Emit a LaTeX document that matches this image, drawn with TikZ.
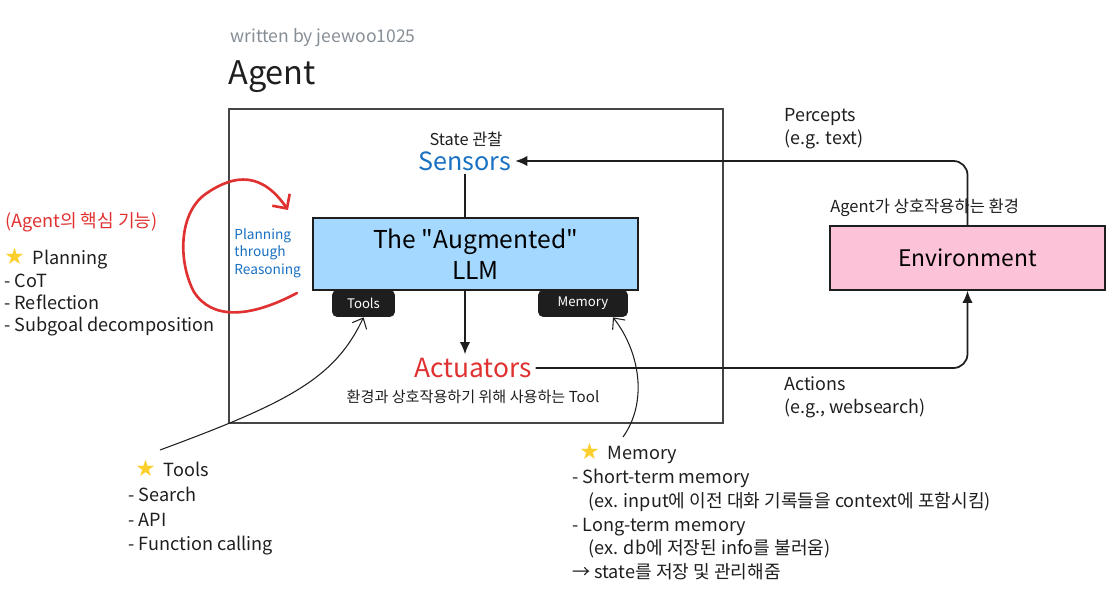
\documentclass[tikz,border=0pt]{standalone}
\usepackage{fontspec}
\setmainfont{Noto Sans CJK KR}
\newfontfamily\symfont{DejaVu Sans}
\usepackage{xcolor}
\usetikzlibrary{arrows.meta, positioning}

\definecolor{ink}{HTML}{1E1E1E}
\definecolor{framegray}{HTML}{454545}
\definecolor{sketchblue}{HTML}{1971C2}
\definecolor{sketchred}{HTML}{E03131}
\definecolor{llmfill}{HTML}{A5D8FF}
\definecolor{envfill}{HTML}{FCC2D7}
\definecolor{staryellow}{HTML}{FCD02C}
\definecolor{authorgray}{HTML}{868E96}

\newcommand{\yellowstar}{{\symfont\fontsize{13}{10}\selectfont\color{staryellow}★}}
\newcommand{\fs}[2]{\fontsize{#1}{#2}\selectfont}

\begin{document}
\begin{tikzpicture}[x=0.02cm, y=-0.02cm,
        frame/.style={rectangle, draw=framegray, line width=1pt, inner sep=0pt},
        llmbox/.style={rectangle, draw=ink, line width=1pt, fill=llmfill, align=center, inner sep=0pt, font=\fs{14}{17.5}},
        envbox/.style={rectangle, draw=ink, line width=0.8pt, fill=envfill, align=center, inner sep=0pt, font=\fs{13}{15}},
        tag/.style={rectangle, rounded corners=3pt, fill=ink, text=white, inner sep=0pt, minimum height=0.54cm, font=\fs{7.5}{9}},
        label/.style={align=left, inner sep=0pt, text=ink, font=\fs{10.3}{13.5}},
        bigword/.style={inner sep=2pt, font=\fs{14.3}{16}},
        arrow/.style={-{Latex[length=7pt, width=6pt]}, line width=1pt, draw=ink},
        callout/.style={-{Straight Barb[length=5pt, width=9pt]}, line width=0.6pt, draw=ink}
    ]
        \useasboundingbox (0,0) rectangle (1112,597);

        % Title
        \node[label, anchor=west, text=authorgray, font=\fs{10}{11}] (author) at (230,38) {written by jeewoo1025};
        \node[label, anchor=west, font=\fs{18.5}{20}] (title) at (228,77) {Agent};

        % Agent frame
        \node[frame, minimum width=9.88cm, minimum height=6.28cm] (agent) at (476,266) {};

        % Sensors
        \node[label, font=\fs{9.3}{10}] (state) at (466,139) {State 관찰};
        \node[bigword, text=sketchblue] (sensors) at (465,161) {Sensors};

        % Augmented LLM
        \node[llmbox, minimum width=6.5cm, minimum height=1.44cm] (llm) at (475.5,254) {The \textquotedbl Augmented\textquotedbl\\LLM};
        \node[tag, minimum width=1.26cm] (tools) at (363.5,303.5) {Tools};
        \node[tag, minimum width=1.8cm] (memory) at (583,303.5) {Memory};
        \node[label, text=sketchblue, font=\fs{7.8}{9.9}, anchor=north west] (planning) at (234,228) {Planning\\through\\Reasoning};

        % Actuators
        \node[bigword, text=sketchred, font=\fs{15}{16}] (actuators) at (473,368) {Actuators};
        \node[label, font=\fs{8.6}{10}] (tooluse) at (473,397) {환경과 상호작용하기 위해 사용하는 Tool};

        % Environment
        \node[envbox, minimum width=5.5cm, minimum height=1.28cm] (env) at (967.5,258) {Environment};
        \node[label, anchor=west, font=\fs{9.4}{10}] (envnote) at (830,208) {Agent가 상호작용하는 환경};
        \node[label, anchor=north west, font=\fs{10.2}{13}] (percepts) at (784,108) {Percepts\\(e.g. text)};
        \node[label, anchor=north west, font=\fs{10.2}{13}] (actions) at (784,376) {Actions\\(e.g., websearch)};

        % Notes outside the frame
        \node[label, anchor=west, text=sketchred] (corehead) at (5,222) {(Agent의 핵심 기능)};
        \node[label, anchor=north west, font=\fs{10.3}{12.7}] (planlist) at (4,248) {\yellowstar\ \ Planning\\- CoT\\- Reflection\\- Subgoal decomposition};
        \node[label, anchor=north west, font=\fs{10.3}{14}] (toollist) at (128,460) {\hspace*{4pt}\yellowstar\ \ Tools\\- Search\\- API\\- Function calling};
        \node[label, anchor=north west, font=\fs{10.3}{13.5}] (memlist) at (572,443) {\hspace*{4pt}\yellowstar\ \ Memory\\- Short-term memory\\\hspace*{0.9em}(ex. input에 이전 대화 기록들을 context에 포함시킴)\\- Long-term memory\\\hspace*{0.9em}(ex. db에 저장된 info를 불러움)\\→ state를 저장 및 관리해줌};

        % Flow inside the agent
        \draw[line width=1pt, draw=ink] (sensors.south) -- (sensors.south |- llm.north);
        \draw[arrow] (sensors.south |- llm.south) -- (sensors.south |- actuators.north);

        % Percepts and actions
        \draw[arrow, rounded corners=8pt] (env.north) |- (sensors.east);
        \draw[arrow, rounded corners=8pt] (actuators.east) -| (env.south);

        % Planning loop
        \coordinate (loopstart) at (297,293);
        \coordinate (looptip) at (288,210);
        \draw[sketchred, line width=1.5pt, line cap=round, -{Straight Barb[length=6pt, width=12pt]}]
            (loopstart) .. controls (250,318) and (212,320) .. (194,292)
            .. controls (178,262) and (178,212) .. (207,193)
            .. controls (235,174) and (262,172) .. (looptip);

        % Callouts
        \coordinate (toolsfrom) at (160,450);
        \coordinate (memfrom) at (623,437);
        \draw[callout] (toolsfrom) .. controls (290,402) and (335,378) .. (tools.south);
        \draw[callout] (memfrom) .. controls (648,402) and (640,352) .. ([xshift=0.6cm]memory.south);
    \end{tikzpicture}
\end{document}
